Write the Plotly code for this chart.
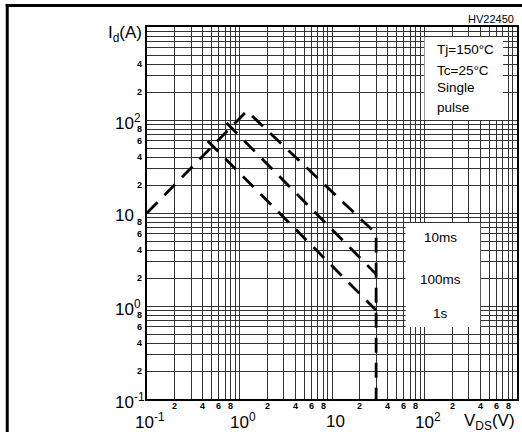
import plotly.graph_objects as go
import math

# ---- data ----
curve_10ms_v = [0.1, 1.2, 30, 30]
curve_10ms_i = [10, 125, 6.0, 0.1]
curve_100ms_v = [0.725, 30]
curve_100ms_i = [93, 2.2]
curve_1s_v = [0.453, 30]
curve_1s_i = [59.5, 0.9]

decades = [0.1, 1, 10, 100, 1000]
x_decade_labels = ["10<sup>-1</sup>", "10<sup>0</sup>", "10", "10<sup>2</sup>"]
y_decade_labels = ["10<sup>-1</sup>", "10<sup>0</sup>", "10", "10<sup>2</sup>"]
minor_label_digits = [2, 4, 6, 8]
legend_labels = ["10ms", "100ms", "1s"]
cond_lines = ["Tj=150°C", "Tc=25°C", "Single", "pulse"]

FONT = "Liberation Sans, Arial, sans-serif"

grid_vals = []
for d in decades[:-1]:
    for k in range(1, 10):
        grid_vals.append(k * d)
grid_vals.append(1000)

fig = go.Figure()
line_style = dict(color="black", width=2.8, dash="15px,10px")
for xs, ys, nm in [(curve_10ms_v, curve_10ms_i, "10ms"),
                   (curve_100ms_v, curve_100ms_i, "100ms"),
                   (curve_1s_v, curve_1s_i, "1s")]:
    fig.add_trace(go.Scatter(x=xs, y=ys, mode="lines", line=line_style,
                             name=nm, showlegend=False, hoverinfo="skip"))

axis_common = dict(type="log", range=[-1, 3], tickvals=grid_vals, showticklabels=False,
                   ticks="", showgrid=True, gridcolor="#333", gridwidth=1,
                   showline=True, linecolor="black", linewidth=1.5, mirror=True,
                   zeroline=False)
fig.update_xaxes(**axis_common)
fig.update_yaxes(**axis_common)

ann = []
small = dict(family=FONT, size=9, color="black")
big = dict(family=FONT, size=17, color="black")


def px_x(p):
    return (p - 147) / 372


def px_y(p):
    return (399 - p) / 372


# x minor labels
for d in decades[:-1]:
    for k in minor_label_digits:
        ann.append(dict(x=math.log10(k * d), xref="x", y=0, yref="paper",
                        text="<b>%d</b>" % k, showarrow=False, font=small,
                        xanchor="center", yanchor="middle", yshift=-7))
# x decade labels
for d, t in zip(decades[:-1], x_decade_labels):
    ann.append(dict(x=math.log10(d), xref="x", y=0, yref="paper", text=t,
                    showarrow=False, font=big, xanchor="center", yanchor="middle",
                    yshift=-22, xshift=3))
# y minor labels
for d in decades[:-1]:
    for k in minor_label_digits:
        v = k * d
        if v > 500:
            continue
        ann.append(dict(x=0, xref="paper", y=math.log10(v), yref="y",
                        text="<b>%d</b>" % k, showarrow=False, font=small,
                        xanchor="right", yanchor="middle", xshift=-3))
# y decade labels
for d, t in zip(decades[:-1], y_decade_labels):
    ann.append(dict(x=px_x(113), xref="paper", y=math.log10(d), yref="y",
                    text=t, showarrow=False, font=big, xanchor="left",
                    yanchor="middle", yshift=-2))

# axis titles
ann.append(dict(x=0, xref="paper", y=1, yref="paper", text="I<sub>d</sub>(A)",
                showarrow=False, font=big, xanchor="right", yanchor="middle",
                xshift=-3, yshift=-7))
ann.append(dict(x=1, xref="paper", y=0, yref="paper", text="V<sub>DS</sub>(V)",
                showarrow=False, font=big, xanchor="right", yanchor="middle",
                xshift=0, yshift=-23))
ann.append(dict(x=1, xref="paper", y=1, yref="paper", text="HV22450",
                showarrow=False, font=dict(family=FONT, size=11, color="black"),
                xanchor="right", yanchor="middle", xshift=-1, yshift=8))

# condition box text
for t, py in zip(cond_lines, [50, 70, 88, 107]):
    ann.append(dict(x=px_x(437), xref="paper", y=px_y(py), yref="paper",
                    text=t, showarrow=False, font=dict(family=FONT, size=13.5, color="black"),
                    xanchor="left", yanchor="middle"))
# pulse box text
for t, py in zip(legend_labels, [238, 279, 313]):
    ann.append(dict(x=px_x(442), xref="paper", y=px_y(py), yref="paper",
                    text=t, showarrow=False, font=dict(family=FONT, size=13.5, color="black"),
                    xanchor="center", yanchor="middle"))

shapes = [
    dict(type="rect", xref="paper", yref="paper", x0=px_x(426), x1=px_x(505),
         y0=px_y(120), y1=px_y(37), fillcolor="white", line=dict(width=0), layer="above"),
    dict(type="rect", xref="paper", yref="paper", x0=px_x(407), x1=px_x(482),
         y0=px_y(327), y1=px_y(223), fillcolor="white", line=dict(width=0), layer="above"),
    # left edge of the page frame
    dict(type="rect", xref="paper", yref="paper", x0=px_x(5), x1=px_x(8),
         y0=px_y(440), y1=px_y(4), fillcolor="black", line=dict(width=0), layer="above"),
    dict(type="rect", xref="paper", yref="paper", x0=px_x(5), x1=px_x(530),
         y0=px_y(7), y1=px_y(4), fillcolor="black", line=dict(width=0), layer="above"),
]

# top edge of the page frame as a stretched black image (alternative rendering path)
black_svg = ("data:image/svg+xml;utf8,<svg xmlns='http://www.w3.org/2000/svg' "
             "width='10' height='10'><rect width='10' height='10' fill='black'/></svg>")
images = [dict(source=black_svg, xref="paper", yref="paper", x=px_x(5), y=px_y(4),
               sizex=(530 - 5) / 372, sizey=3 / 372, xanchor="left", yanchor="top",
               sizing="stretch", layer="above")]

fig.update_layout(width=522, height=432, margin=dict(l=147, r=3, t=27, b=33),
                  paper_bgcolor="white", plot_bgcolor="white",
                  annotations=ann, shapes=shapes, images=images, showlegend=False)
fig.write_html("out.html", config={"displayModeBar": False},
               post_script="document.documentElement.style.margin='0';"
                           "document.body.style.margin='0';document.body.style.padding='0';"
                           "document.body.style.overflow='hidden';window.scrollTo(0,0);")
